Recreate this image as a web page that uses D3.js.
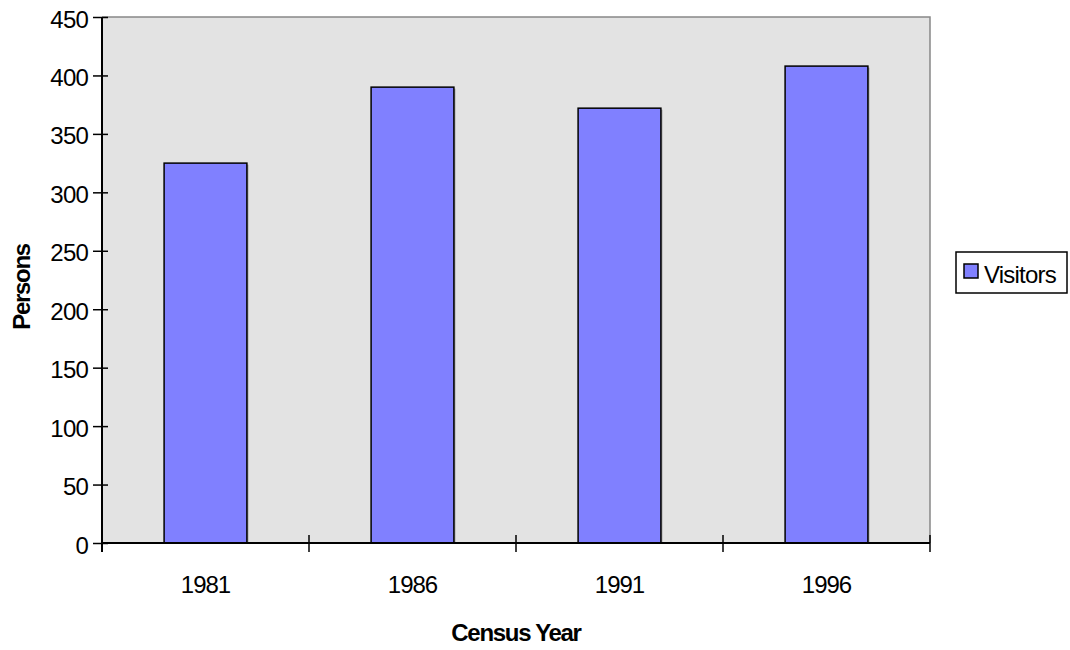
<!DOCTYPE html>
<html><head><meta charset="utf-8">
<script src="https://cdn.jsdelivr.net/npm/d3@7"></script>
<style>body{margin:0;background:#fff}svg{display:block}text{font-family:"Liberation Sans",Arial,sans-serif}</style>
</head><body><svg id="c" width="1070" height="650"></svg>
<script>
const categories = ["1981","1986","1991","1996"];
const visitors = [325, 390, 372, 408];
const yTicks = [0,50,100,150,200,250,300,350,400,450];
const seriesName = "Visitors";

const svg = d3.select("#c");
const m = {l:102, t:17, r:930, b:543};
const x = d3.scaleBand().domain(categories).range([m.l, m.r]).paddingInner(0.6).paddingOuter(0.3);
const xb = d3.scaleBand().domain(categories).range([m.l, m.r]);
const y = d3.scaleLinear().domain([0,450]).range([m.b, m.t]);

svg.append("rect").attr("x",m.l).attr("y",m.t).attr("width",m.r-m.l).attr("height",m.b-m.t).attr("fill","#e3e3e3");
svg.append("path").attr("d",`M${m.l},${m.t}H${m.r}V${m.b}`).attr("fill","none").attr("stroke","#888").attr("stroke-width",1.5);

// shadows
svg.selectAll("rect.sh").data(visitors).enter().append("rect")
  .attr("x",(d,i)=>x(categories[i])+1.5).attr("y",d=>y(d)+1.5)
  .attr("width",x.bandwidth()).attr("height",d=>m.b-y(d)-1.5).attr("fill","#9a9a9a");
svg.selectAll("rect.bar").data(visitors).enter().append("rect")
  .attr("x",(d,i)=>x(categories[i])).attr("y",d=>y(d))
  .attr("width",x.bandwidth()).attr("height",d=>m.b-y(d))
  .attr("fill","#8080ff").attr("stroke","#000").attr("stroke-width",1.5);

// y axis
const ya = svg.append("g").attr("transform",`translate(${m.l},0)`)
  .call(d3.axisLeft(y).tickValues(yTicks).tickSize(8).tickPadding(6));
ya.select(".domain").remove();
ya.selectAll(".tick line").attr("x2",-9).attr("x1",6).attr("stroke","#000").attr("stroke-width",1.5);
ya.selectAll("text").attr("font-size",24).attr("fill","#000").attr("letter-spacing","-0.8")
  .attr("font-family","Liberation Sans, Arial").attr("x",-14).attr("dy","0.42em");
svg.append("line").attr("x1",m.l).attr("x2",m.l).attr("y1",m.t).attr("y2",m.b+9).attr("stroke","#000").attr("stroke-width",2);

// x axis
const xa = svg.append("g").attr("transform",`translate(0,${m.b})`)
  .call(d3.axisBottom(xb).tickSize(0).tickPadding(0));
xa.select(".domain").remove();
xa.selectAll("text").attr("font-size",24).attr("fill","#000").attr("letter-spacing","-1")
  .attr("font-family","Liberation Sans, Arial").attr("y",50).attr("dy",0);
svg.append("line").attr("x1",m.l).attr("x2",m.r).attr("y1",m.b).attr("y2",m.b).attr("stroke","#000").attr("stroke-width",2);
const bounds = categories.map(c=>xb(c)).concat([m.r]).slice(1);
svg.selectAll("line.xt").data(bounds).enter().append("line")
  .attr("x1",d=>d).attr("x2",d=>d).attr("y1",m.b-8).attr("y2",m.b+9).attr("stroke","#000").attr("stroke-width",1.5);

// titles
svg.append("text").attr("x",(m.l+m.r)/2).attr("y",641).attr("text-anchor","middle")
  .attr("font-size",24).attr("font-weight","bold").attr("letter-spacing","-1.3").text("Census Year");
svg.append("text").attr("transform","translate(30,287) rotate(-90)").attr("text-anchor","middle")
  .attr("font-size",24).attr("font-weight","bold").attr("letter-spacing","-1.3").text("Persons");

// legend
const lg = svg.append("g");
lg.append("rect").attr("x",956).attr("y",252).attr("width",111).attr("height",41).attr("fill","#fff").attr("stroke","#000").attr("stroke-width",1.5);
lg.append("rect").attr("x",964).attr("y",264).attr("width",14).attr("height",14).attr("fill","#8080ff").attr("stroke","#000").attr("stroke-width",1.5);
lg.append("text").attr("x",984).attr("y",283).attr("font-size",24).attr("letter-spacing","-0.8").text(seriesName);
</script></body></html>
